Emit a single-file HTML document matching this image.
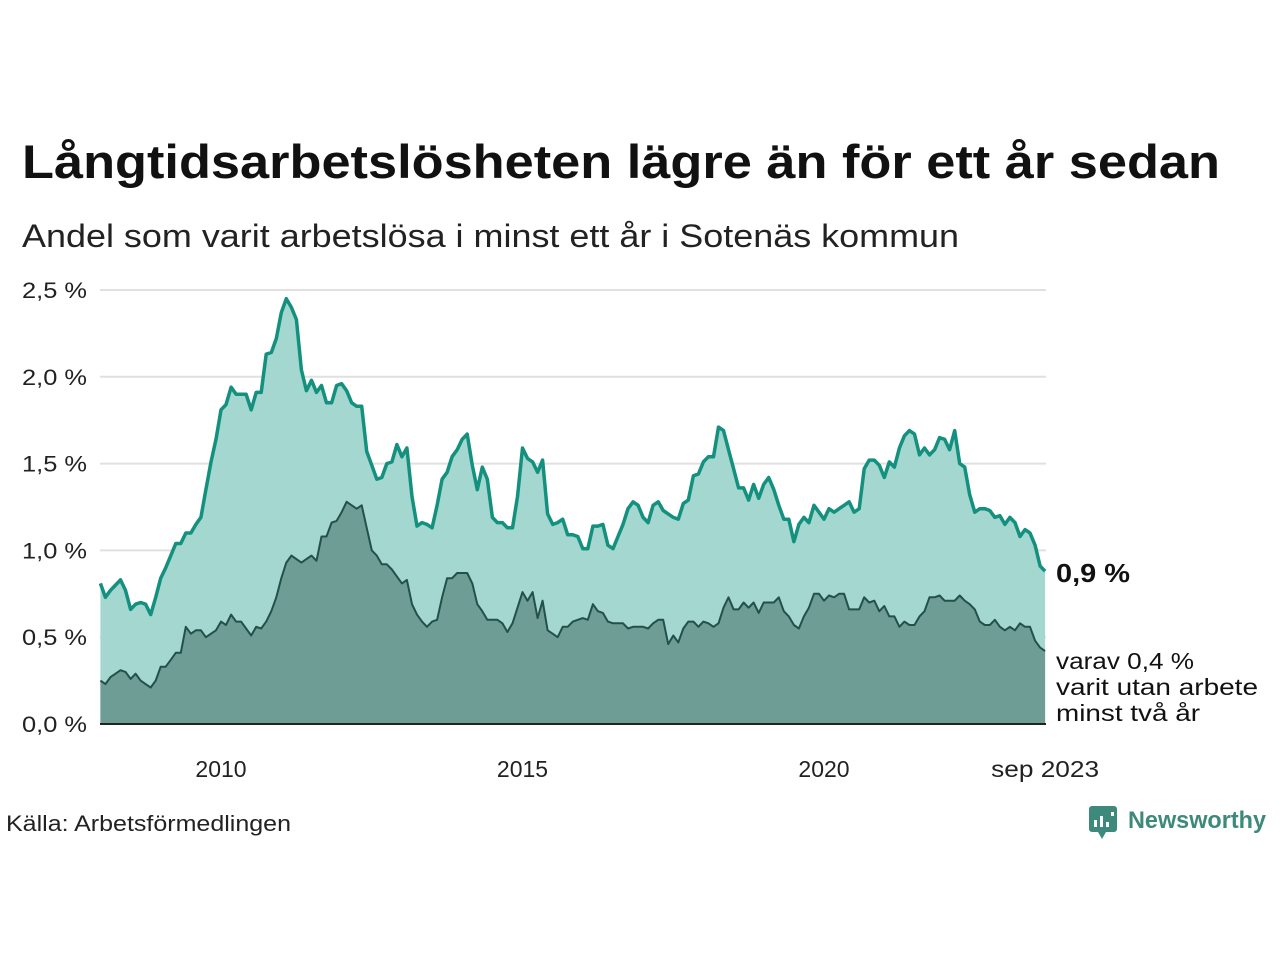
<!DOCTYPE html>
<html><head><meta charset="utf-8"><style>
body{margin:0;background:#fff;width:1280px;height:960px;overflow:hidden}
svg text{font-family:"Liberation Sans",sans-serif}
</style></head><body>
<svg id="c" width="1280" height="960" xmlns="http://www.w3.org/2000/svg">
<text x="22" y="178" font-size="47" font-weight="bold" fill="#111" textLength="1198" lengthAdjust="spacingAndGlyphs">Långtidsarbetslösheten lägre än för ett år sedan</text>
<text x="22" y="247" font-size="32" fill="#222" textLength="937" lengthAdjust="spacingAndGlyphs">Andel som varit arbetslösa i minst ett år i Sotenäs kommun</text>
<g id="grid"></g>
<g id="areas"></g>
<g id="labels"></g>
<text x="6" y="831" font-size="22" fill="#222" textLength="285" lengthAdjust="spacingAndGlyphs">Källa: Arbetsförmedlingen</text>
<g>
<rect x="1089" y="806" width="28" height="26" rx="3" fill="#3d8a7c"/>
<polygon points="1098,832 1106,832 1102,839" fill="#3d8a7c"/>
<rect x="1094" y="820" width="3" height="7" fill="#fff"/><rect x="1100" y="816" width="3" height="11" fill="#fff"/><rect x="1106" y="822" width="3" height="5" fill="#fff"/><rect x="1111" y="812" width="3" height="4" fill="#fff"/>
<text x="1128" y="828" font-size="24" font-weight="bold" fill="#3d8a7c" textLength="138" lengthAdjust="spacingAndGlyphs">Newsworthy</text>
</g>
</svg>
<script>
const yTicks=[0,0.5,1.0,1.5,2.0,2.5];
const yTickLabels=["0,0 %","0,5 %","1,0 %","1,5 %","2,0 %","2,5 %"];
const xTickYears=[2010,2015,2020];
const total=[0.81,0.73,0.77,0.80,0.83,0.77,0.66,0.69,0.70,0.69,0.63,0.73,
0.84,0.90,0.97,1.04,1.04,1.10,1.10,1.15,1.19,1.35,1.51,1.64,
1.81,1.84,1.94,1.90,1.90,1.90,1.81,1.91,1.91,2.13,2.14,2.22,
2.37,2.45,2.40,2.33,2.04,1.92,1.98,1.91,1.95,1.85,1.85,1.95,
1.96,1.92,1.85,1.83,1.83,1.57,1.49,1.41,1.42,1.50,1.51,1.61,
1.54,1.59,1.31,1.14,1.16,1.15,1.13,1.26,1.41,1.45,1.54,1.58,
1.64,1.67,1.49,1.35,1.48,1.41,1.19,1.16,1.16,1.13,1.13,1.31,
1.59,1.53,1.51,1.45,1.52,1.21,1.15,1.16,1.18,1.09,1.09,1.08,
1.01,1.01,1.14,1.14,1.15,1.03,1.01,1.08,1.15,1.24,1.28,1.26,
1.19,1.16,1.26,1.28,1.23,1.21,1.19,1.18,1.27,1.29,1.43,1.44,
1.51,1.54,1.54,1.71,1.69,1.58,1.47,1.36,1.36,1.29,1.38,1.30,
1.38,1.42,1.35,1.26,1.18,1.18,1.05,1.15,1.19,1.16,1.26,1.22,
1.18,1.24,1.22,1.24,1.26,1.28,1.22,1.24,1.47,1.52,1.52,1.49,
1.42,1.51,1.48,1.59,1.66,1.69,1.67,1.55,1.59,1.55,1.58,1.65,
1.64,1.58,1.69,1.50,1.48,1.32,1.22,1.24,1.24,1.23,1.19,1.20,
1.15,1.19,1.16,1.08,1.12,1.10,1.03,0.91,0.88];
const twoYears=[0.25,0.23,0.27,0.29,0.31,0.30,0.26,0.29,0.25,0.23,0.21,0.25,
0.33,0.33,0.37,0.41,0.41,0.56,0.52,0.54,0.54,0.50,0.52,0.54,
0.59,0.57,0.63,0.59,0.59,0.55,0.51,0.56,0.55,0.59,0.65,0.73,
0.84,0.93,0.97,0.95,0.93,0.95,0.97,0.94,1.08,1.08,1.16,1.17,
1.22,1.28,1.26,1.24,1.26,1.13,1.00,0.97,0.92,0.92,0.89,0.85,
0.81,0.83,0.69,0.63,0.59,0.56,0.59,0.60,0.73,0.84,0.84,0.87,
0.87,0.87,0.81,0.69,0.65,0.60,0.60,0.60,0.58,0.53,0.58,0.67,
0.76,0.71,0.76,0.61,0.71,0.54,0.52,0.50,0.56,0.56,0.59,0.60,
0.61,0.60,0.69,0.65,0.64,0.59,0.58,0.58,0.58,0.55,0.56,0.56,
0.56,0.55,0.58,0.60,0.60,0.46,0.51,0.47,0.55,0.59,0.59,0.56,
0.59,0.58,0.56,0.58,0.67,0.73,0.66,0.66,0.70,0.67,0.70,0.64,
0.70,0.70,0.70,0.73,0.65,0.62,0.57,0.55,0.62,0.67,0.75,0.75,
0.71,0.74,0.73,0.75,0.75,0.66,0.66,0.66,0.73,0.70,0.71,0.65,
0.68,0.62,0.62,0.56,0.59,0.57,0.57,0.62,0.65,0.73,0.73,0.74,
0.71,0.71,0.71,0.74,0.71,0.69,0.66,0.59,0.57,0.57,0.60,0.56,
0.54,0.56,0.54,0.58,0.56,0.56,0.48,0.44,0.42];
const startYear=2008;
const X0=100.4, PX_PER_MONTH=5.025, Y0=724, PX_PER_UNIT=173.6;
const xs=i=>X0+i*PX_PER_MONTH;
const xYear=y=>X0+(y-startYear)*12*PX_PER_MONTH;
const ys=v=>Y0-v*PX_PER_UNIT;
const NS="http://www.w3.org/2000/svg";
function mk(tag,attrs,parent){const e=document.createElementNS(NS,tag);for(const k in attrs)e.setAttribute(k,attrs[k]);parent.appendChild(e);return e;}
const grid=document.getElementById('grid'),areas=document.getElementById('areas'),labels=document.getElementById('labels');
const xEnd=xs(total.length-1);
yTicks.forEach((t,i)=>{
  if(t>0){const l=mk('line',{x1:100,x2:1046,y1:ys(t),y2:ys(t),stroke:'#e0e0e0','stroke-width':2},grid);
  
  }
  const tx=mk('text',{x:22,y:ys(t)+8,'font-size':22,fill:'#222',textLength:65,lengthAdjust:'spacingAndGlyphs'},labels);
  tx.textContent=yTickLabels[i];
  
  
});
xTickYears.forEach(y=>{
  const tx=mk('text',{x:xYear(y),y:777,'font-size':23,fill:'#222','text-anchor':'middle'},labels);
  tx.textContent=String(y);
  
  
});
const endLbl=mk('text',{x:xEnd,y:777,'font-size':23,fill:'#222','text-anchor':'middle',textLength:108,lengthAdjust:'spacingAndGlyphs'},labels);
endLbl.textContent='sep 2023';


function linePts(arr){return arr.map((v,i)=>xs(i).toFixed(1)+','+ys(v).toFixed(1)).join(' ');}
function areaPts(arr){return linePts(arr)+' '+xEnd.toFixed(1)+','+Y0+' '+xs(0).toFixed(1)+','+Y0;}
const a1=mk('polygon',{points:areaPts(total),fill:'#a3d7d0'},areas);


const l1=mk('polyline',{points:linePts(total),fill:'none',stroke:'#14907e','stroke-width':3.5,'stroke-linejoin':'round'},areas);


const a2=mk('polygon',{points:areaPts(twoYears),fill:'#6e9d95'},areas);


const l2=mk('polyline',{points:linePts(twoYears),fill:'none',stroke:'#24504a','stroke-width':2,'stroke-linejoin':'round'},areas);


const base=mk('line',{x1:100,x2:1046,y1:Y0,y2:Y0,stroke:'#222','stroke-width':2},areas);


const v1=mk('text',{x:1056,y:582,'font-size':26,'font-weight':'bold',fill:'#111',textLength:74,lengthAdjust:'spacingAndGlyphs'},labels);
v1.textContent='0,9 %';


const legendLines=['varav 0,4 %','varit utan arbete','minst två år'];
const legendWidths=[138,202,144];
legendLines.forEach((s,i)=>{
  const t=mk('text',{x:1056,y:669+i*26,'font-size':23,fill:'#111',textLength:legendWidths[i],lengthAdjust:'spacingAndGlyphs'},labels);
  t.textContent=s;
  
  
});
</script>
</body></html>
